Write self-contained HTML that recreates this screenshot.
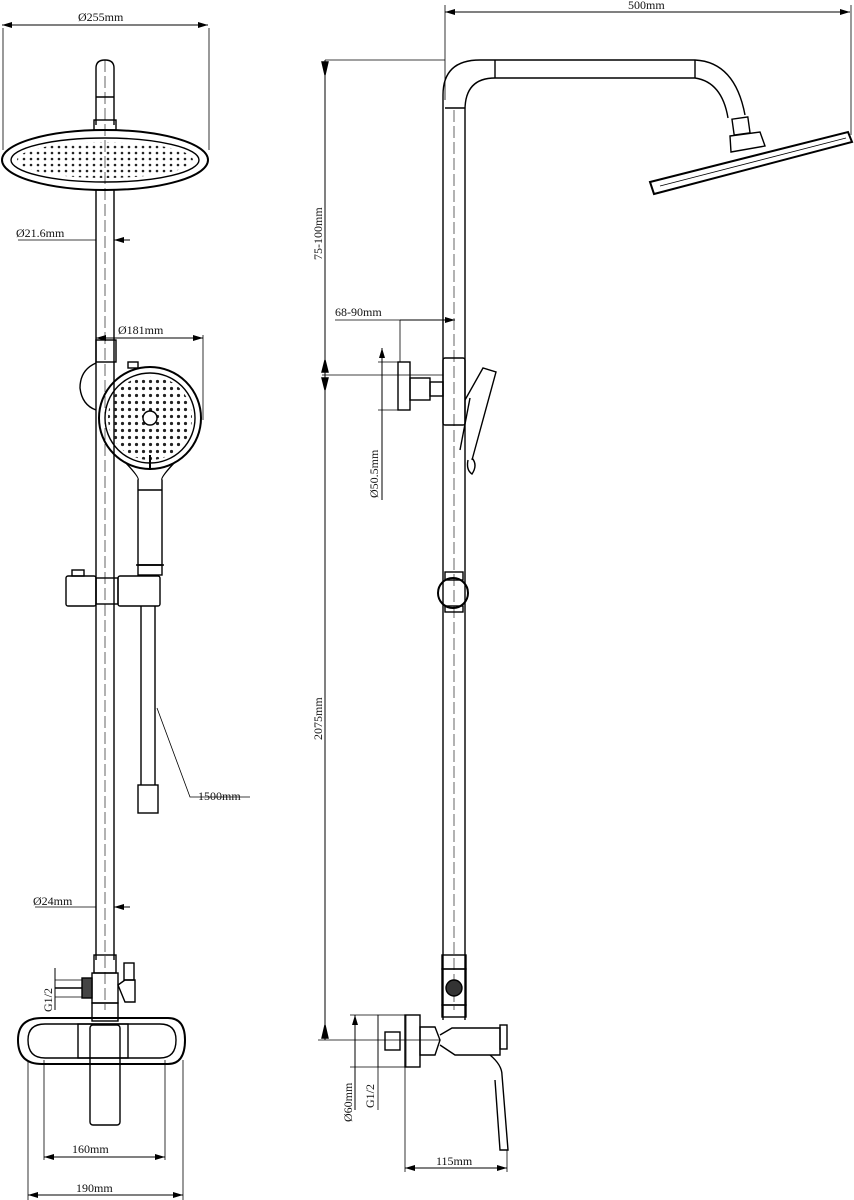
<!DOCTYPE html>
<html><head><meta charset="utf-8"><style>
html,body{margin:0;padding:0;background:#fff;}
svg{display:block}
text{font-family:"Liberation Serif",serif;font-size:12px;fill:#111}
</style></head><body>
<svg width="854" height="1200" viewBox="0 0 854 1200" xmlns="http://www.w3.org/2000/svg">
<defs>
<pattern id="dots" width="7" height="6" patternUnits="userSpaceOnUse"><circle cx="3" cy="3" r="1.3" fill="#222"/></pattern>
<pattern id="dots2" width="7" height="7" patternUnits="userSpaceOnUse"><circle cx="3.5" cy="3.5" r="1.6" fill="#222"/></pattern>
<marker id="ar" markerWidth="10" markerHeight="6" refX="10" refY="3" orient="auto"><path d="M0,0 L10,3 L0,6 Z" fill="#000"/></marker>
<marker id="al" markerWidth="10" markerHeight="6" refX="0" refY="3" orient="auto"><path d="M10,0 L0,3 L10,6 Z" fill="#000"/></marker>
</defs>
<g fill="none" stroke="#000" stroke-width="1.4">
<!-- ===== LEFT VIEW ===== -->
<!-- top dim -->
<line x1="2" y1="25" x2="208" y2="25" marker-start="url(#al)" marker-end="url(#ar)" stroke-width="1"/>
<line x1="3" y1="28" x2="3" y2="150" stroke-width="0.8"/>
<line x1="209" y1="28" x2="209" y2="150" stroke-width="0.8"/>
<!-- top pipe -->
<path d="M96,125 L96,68 Q96,60 105,60 Q114,60 114,68 L114,125"/>
<line x1="96" y1="97" x2="114" y2="97"/>
<rect x="94" y="120" width="22" height="10"/>
<!-- head -->
<ellipse cx="105" cy="160" rx="103" ry="30" stroke-width="2"/>
<ellipse cx="105" cy="160" rx="94" ry="22"/>
<ellipse cx="105" cy="160" rx="88" ry="18" fill="url(#dots)" stroke="none"/>
<!-- main pipe -->
<line x1="96" y1="190" x2="96" y2="960"/>
<line x1="114" y1="190" x2="114" y2="960"/>
<line x1="105" y1="60" x2="105" y2="1010" stroke-width="0.6" stroke-dasharray="12,4"/>
<!-- Ø21.6 -->
<line x1="18" y1="240" x2="96" y2="240" stroke-width="0.8"/>
<line x1="114" y1="240" x2="130" y2="240" marker-start="url(#al)" stroke-width="1"/>
<!-- Ø181 -->
<line x1="96" y1="338" x2="203" y2="338" marker-start="url(#al)" marker-end="url(#ar)" stroke-width="1"/>
<line x1="203" y1="335" x2="203" y2="420" stroke-width="0.8"/>
<!-- holder -->
<rect x="96" y="340" width="20" height="22"/>
<path d="M96,363 Q80,370 80,388 Q82,405 96,410"/>
<rect x="128" y="362" width="10" height="6"/>
<!-- hand shower -->
<circle cx="150" cy="418" r="51" stroke-width="2"/>
<circle cx="150" cy="418" r="45"/>
<circle cx="150" cy="418" r="42" fill="url(#dots2)" stroke="none"/>
<circle cx="150" cy="418" r="7" fill="#fff"/>
<path d="M125,462 Q140,478 138,480 L138,565 L162,565 L162,480 Q160,478 175,462"/>
<line x1="138" y1="490" x2="162" y2="490"/>
<line x1="150" y1="455" x2="150" y2="470" stroke-width="2"/>
<line x1="136" y1="565" x2="164" y2="565"/>
<rect x="138" y="565" width="24" height="10"/>
<!-- slider -->
<rect x="66" y="576" width="30" height="30" rx="2"/>
<rect x="96" y="578" width="22" height="26"/>
<rect x="118" y="576" width="42" height="30" rx="2"/>
<rect x="72" y="570" width="12" height="6"/>
<!-- hose -->
<line x1="141" y1="606" x2="141" y2="785"/>
<line x1="155" y1="606" x2="155" y2="785"/>
<rect x="138" y="785" width="20" height="28"/>
<polyline points="157,708 190,797 250,797" stroke-width="0.8"/>
<!-- Ø24 -->
<line x1="35" y1="907" x2="96" y2="907" stroke-width="0.8"/>
<line x1="114" y1="907" x2="130" y2="907" marker-start="url(#al)" stroke-width="1"/>
<!-- valve -->
<rect x="94" y="955" width="22" height="18"/>
<rect x="92" y="973" width="26" height="30"/>
<path d="M118,985 L125,980 L135,980 L135,1002 L125,1002 Z"/>
<rect x="124" y="963" width="10" height="17"/>
<rect x="82" y="978" width="10" height="20" fill="#444"/>
<line x1="55" y1="988" x2="82" y2="988"/>
<line x1="55" y1="980" x2="82" y2="980" stroke-width="0.8"/>
<line x1="55" y1="997" x2="82" y2="997" stroke-width="0.8"/>
<line x1="55" y1="968" x2="55" y2="1010" stroke-width="1"/>
<rect x="92" y="1003" width="26" height="18"/>
<!-- mixer -->
<path d="M42,1018 Q18,1018 18,1040 Q18,1064 42,1064 L168,1064 Q185,1064 185,1040 Q185,1018 168,1018 Z" stroke-width="2"/>
<path d="M45,1024 Q28,1024 28,1040 Q28,1058 45,1058 L160,1058 Q176,1058 176,1040 Q176,1024 160,1024 Z"/>
<rect x="78" y="1024" width="50" height="34"/>
<rect x="90" y="1025" width="30" height="100" rx="3"/>
<line x1="44" y1="1060" x2="44" y2="1160" stroke-width="0.8"/>
<line x1="165" y1="1060" x2="165" y2="1160" stroke-width="0.8"/>
<line x1="28" y1="1060" x2="28" y2="1200" stroke-width="0.8"/>
<line x1="183" y1="1060" x2="183" y2="1200" stroke-width="0.8"/>
<line x1="44" y1="1157" x2="165" y2="1157" marker-start="url(#al)" marker-end="url(#ar)" stroke-width="1"/>
<line x1="28" y1="1195" x2="183" y2="1195" marker-start="url(#al)" marker-end="url(#ar)" stroke-width="1"/>

<!-- ===== RIGHT VIEW ===== -->
<line x1="445" y1="12" x2="850" y2="12" marker-start="url(#al)" marker-end="url(#ar)" stroke-width="1"/>
<line x1="445" y1="5" x2="445" y2="100" stroke-width="0.8"/>
<line x1="851" y1="5" x2="851" y2="135" stroke-width="0.8"/>
<!-- frame pipe -->
<path d="M443,1020 L443,95 Q443,60 480,60 L695,60 Q735,62 745,115"/>
<path d="M465,1020 L465,110 Q465,78 495,78 L695,78 Q722,82 728,118"/>
<line x1="495" y1="60" x2="495" y2="78"/>
<line x1="695" y1="60" x2="695" y2="78"/>
<line x1="445" y1="108" x2="465" y2="108"/>
<line x1="454" y1="110" x2="454" y2="1010" stroke-width="0.6" stroke-dasharray="12,4"/>
<rect x="733" y="118" width="16" height="16" transform="rotate(-8 741 126)"/>
<path d="M730,136 L760,132 L765,146 L731,152 Z"/>
<path d="M650,182 L848,132 L852,142 L654,194 Z" stroke-width="2"/>
<line x1="660" y1="186" x2="846" y2="138" stroke-width="0.8"/>
<!-- left dim -->
<line x1="325" y1="60" x2="325" y2="1040" stroke-width="1"/>
<line x1="325" y1="60" x2="445" y2="60" stroke-width="0.8"/>
<line x1="322" y1="375" x2="443" y2="375" stroke-width="0.8"/>
<line x1="318" y1="1040" x2="440" y2="1040" stroke-width="0.8"/>
<path d="M322,62 L325,75 L328,62 Z M322,372 L325,360 L328,372 Z M322,378 L325,390 L328,378 Z M322,1038 L325,1025 L328,1038 Z" fill="#000"/>
<!-- 68-90 -->
<line x1="335" y1="320" x2="400" y2="320" stroke-width="0.8"/>
<line x1="400" y1="320" x2="455" y2="320" marker-end="url(#ar)" stroke-width="1"/>
<line x1="400" y1="320" x2="400" y2="362" stroke-width="0.8"/>
<!-- wall bracket -->
<rect x="398" y="362" width="12" height="48"/>
<rect x="410" y="378" width="20" height="22"/>
<rect x="430" y="382" width="13" height="14"/>
<rect x="443" y="358" width="22" height="67" rx="2"/>
<line x1="382" y1="348" x2="382" y2="500" marker-start="url(#al)" stroke-width="1"/>
<line x1="378" y1="362" x2="400" y2="362" stroke-width="0.8"/>
<line x1="378" y1="410" x2="400" y2="410" stroke-width="0.8"/>
<!-- holder -->
<path d="M465,400 L483,368 L496,372 L472,460"/>
<line x1="470" y1="398" x2="460" y2="450"/>
<path d="M472,458 Q478,465 472,474 Q466,470 468,460"/>
<!-- slider knob -->
<rect x="445" y="572" width="18" height="8"/>
<circle cx="453" cy="593" r="15" stroke-width="2"/>
<rect x="445" y="606" width="18" height="6"/>
<!-- valve -->
<rect x="442" y="955" width="24" height="14"/>
<rect x="442" y="969" width="24" height="36"/>
<circle cx="454" cy="988" r="8" fill="#333"/>
<rect x="442" y="1005" width="24" height="12"/>
<!-- mixer -->
<rect x="378" y="1015" width="28" height="52" stroke-width="0.8"/>
<rect x="405" y="1015" width="15" height="52"/>
<rect x="385" y="1032" width="15" height="18"/>
<path d="M420,1027 L435,1027 L440,1040 L435,1055 L420,1055 Z"/>
<path d="M440,1035 L452,1028 L500,1028 L500,1055 L455,1055 L440,1045"/>
<rect x="500" y="1025" width="7" height="24"/>
<path d="M490,1055 Q502,1065 502,1075 L508,1150 L500,1150 L495,1080"/>
<line x1="355" y1="1015" x2="355" y2="1110" marker-start="url(#al)" stroke-width="1"/>
<line x1="350" y1="1015" x2="378" y2="1015" stroke-width="0.8"/>
<line x1="350" y1="1067" x2="378" y2="1067" stroke-width="0.8"/>
<line x1="378" y1="1015" x2="378" y2="1110" stroke-width="0.8"/>
<line x1="405" y1="1067" x2="405" y2="1172" stroke-width="0.8"/>
<line x1="507" y1="1150" x2="507" y2="1172" stroke-width="0.8"/>
<line x1="405" y1="1168" x2="507" y2="1168" marker-start="url(#al)" marker-end="url(#ar)" stroke-width="1"/>
</g>
<!-- labels -->
<text x="78" y="21">Ø255mm</text>
<text x="16" y="237">Ø21.6mm</text>
<text x="118" y="334">Ø181mm</text>
<text x="198" y="800">1500mm</text>
<text x="33" y="905">Ø24mm</text>
<text x="52" y="1012" transform="rotate(-90 52 1012)">G1/2</text>
<text x="72" y="1153">160mm</text>
<text x="76" y="1192">190mm</text>
<text x="628" y="9">500mm</text>
<text x="322" y="260" transform="rotate(-90 322 260)">75-100mm</text>
<text x="322" y="740" transform="rotate(-90 322 740)">2075mm</text>
<text x="335" y="316">68-90mm</text>
<text x="378" y="498" transform="rotate(-90 378 498)">Ø50.5mm</text>
<text x="352" y="1122" transform="rotate(-90 352 1122)">Ø60mm</text>
<text x="374" y="1108" transform="rotate(-90 374 1108)">G1/2</text>
<text x="436" y="1165">115mm</text>
</svg>
</body></html>
